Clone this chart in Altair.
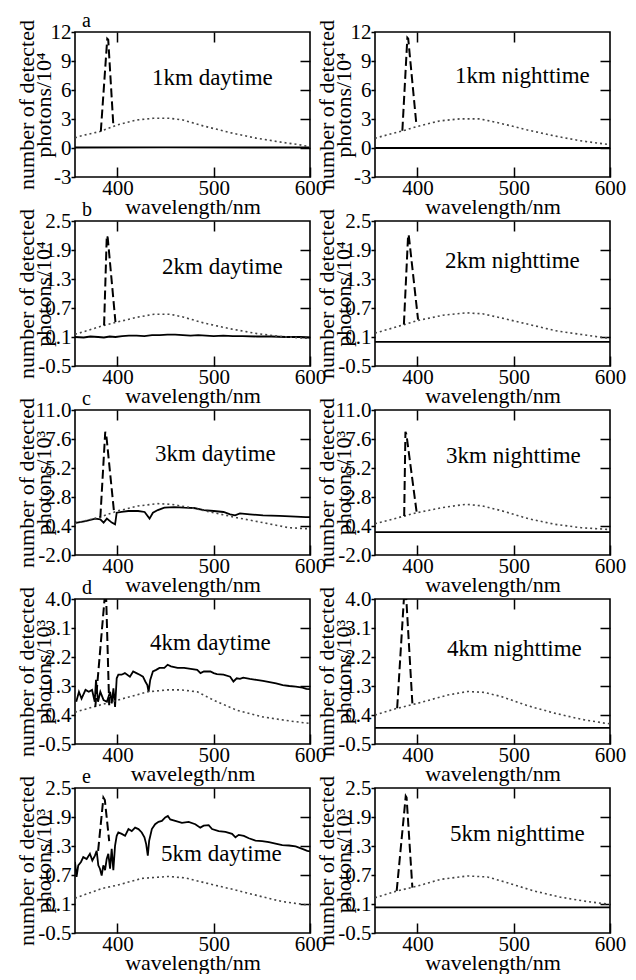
import altair as alt
import pandas as pd

FONT = "Liberation Serif, Times New Roman, serif"
PW, PH = 235, 145

X_DOMAIN = [356, 600]
X_TICKS = [400, 500, 600]
X_TOP_TICKS = [400, 500]

Y_TICKS_A = [-3, 0, 3, 6, 9, 12]
Y_LABELS_A = ["-3", "0", "3", "6", "9", "12"]
Y_TICKS_B = [-0.5, 0.1, 0.7, 1.3, 1.9, 2.5]
Y_LABELS_B = ["-0.5", "0.1", "0.7", "1.3", "1.9", "2.5"]
Y_TICKS_C = [-2.0, 0.4, 2.8, 5.2, 7.6, 10.0]
Y_LABELS_C = ["-2.0", "0.4", "2.8", "5.2", "7.6", "11.0"]
Y_TICKS_D = [-0.5, 0.4, 1.3, 2.2, 3.1, 4.0]
Y_LABELS_D = ["-0.5", "0.4", "1.3", "2.2", "3.1", "4.0"]
Y_TICKS_E = [-0.5, 0.1, 0.7, 1.3, 1.9, 2.5]
Y_LABELS_E = ["-0.5", "0.1", "0.7", "1.3", "1.9", "2.5"]

UNITS = ["photons/10⁴", "photons/10⁴", "photons/10³", "photons/10³", "photons/10³"]
LETTERS = ["a", "b", "c", "d", "e"]
DAY_TITLES = ["1km daytime", "2km daytime", "3km daytime", "4km daytime", "5km daytime"]
NIGHT_TITLES = ["1km nighttime", "2km nighttime", "3km nighttime", "4km nighttime", "5km nighttime"]
X_TITLES_DAY = ["wavelength/nm", "wavelength/nm", "wavelength/nm", "wavelegth/nm", "wavelength/nm"]
X_TITLES_NIGHT = ["wavelength/nm"] * 5
Y_TITLE_TOP = "number of detected"

# in-panel caption placement (pixels inside each plot area): (x, y)
DAY_TEXT_POS = [(77, 46), (87, 46), (80, 44), (75, 44), (86, 66)]
NIGHT_TEXT_POS = [(80, 44), (70, 40), (71, 46), (72, 50), (75, 46)]

# ---- 1 km ----
SOLID_A_DAY = [(356, 0.05), (450, 0.06), (600, 0.05)]
DASH_A_DAY = [(382.8, 1.71), (389.5, 11.3), (390.5, 11.2), (395.9, 2.2)]
DOT_A_DAY = [(356, 1.05), (359.7, 1.19), (382, 1.71), (400, 2.39), (420, 2.9), (437, 3.07),
             (454.5, 3.07), (468, 2.9), (489, 2.29), (516.6, 1.6), (544, 1.02), (571.7, 0.58),
             (589, 0.34), (600, 0.12)]
SOLID_A_NIGHT = [(356, 0.0), (600, 0.0)]
DASH_A_NIGHT = [(384.4, 1.78), (389.6, 11.4), (390.5, 11.3), (399, 2.4)]
DOT_A_NIGHT = [(356, 1.0), (359, 1.1), (385, 1.78), (400, 2.23), (423, 2.8), (444, 3.01),
               (465, 3.01), (485.8, 2.57), (513.5, 1.88), (541.3, 1.27), (569, 0.75), (600, 0.34)]

# ---- 2 km ----
SOLID_B_DAY = [(356, 0.10), (365, 0.09), (372, 0.11), (380, 0.10), (386, 0.09), (392, 0.11),
               (398, 0.10), (405, 0.12), (412, 0.13), (420, 0.13), (428, 0.12), (436, 0.14),
               (444, 0.14), (452, 0.15), (460, 0.15), (468, 0.14), (476, 0.13), (484, 0.14),
               (492, 0.13), (500, 0.12), (510, 0.13), (520, 0.12), (530, 0.12), (545, 0.11),
               (560, 0.11), (575, 0.10), (590, 0.10), (600, 0.09)]
DASH_B_DAY = [(386.2, 0.34), (389, 2.2), (390, 2.15), (398, 0.41)]
DOT_B_DAY = [(356, 0.16), (358.6, 0.17), (386, 0.34), (400, 0.41), (420.7, 0.51), (438, 0.57),
             (455, 0.57), (469, 0.51), (489.7, 0.39), (517, 0.27), (545, 0.17), (569, 0.11),
             (600, 0.07)]
SOLID_B_NIGHT = [(356, 0.0), (600, 0.0)]
DASH_B_NIGHT = [(386, 0.36), (390.4, 2.22), (391.2, 2.18), (400.7, 0.46)]
DOT_B_NIGHT = [(356, 0.18), (359.5, 0.2), (387, 0.36), (400, 0.44), (426.5, 0.55), (450.5, 0.6),
               (467.7, 0.58), (488, 0.49), (515.8, 0.36), (543.3, 0.23), (570.8, 0.15), (600, 0.07)]

# ---- 3 km ----
SOLID_C_DAY = [(356, 0.7), (358.4, 0.68), (366.9, 0.81), (377.1, 1.01), (382.3, 0.95), (385.7, 0.68),
               (389.1, 1.01), (394.2, 0.68), (397.6, 0.54), (399.3, 1.50), (404.4, 1.56),
               (411.3, 1.64), (421.5, 1.64), (428.3, 1.56), (433.4, 1.01), (436.9, 1.50),
               (442, 1.72), (448.8, 1.92), (459, 1.97), (469.3, 1.92), (479.5, 1.89),
               (489.8, 1.72), (500, 1.64), (510.2, 1.56), (517.1, 1.37), (522.2, 1.28),
               (527.3, 1.45), (537.5, 1.37), (551.2, 1.28), (568.3, 1.23), (585.3, 1.17),
               (595.6, 1.14), (600, 1.13)]
DASH_C_DAY = [(382.3, 1.09), (387.4, 8.2), (388.4, 8.0), (396.6, 1.5)]
DOT_C_DAY = [(356, 0.6), (358.4, 0.68), (380, 1.09), (400, 1.64), (421.5, 2.06), (442, 2.25),
             (455.6, 2.2), (476, 1.92), (500, 1.5), (524, 1.09), (551, 0.68), (578, 0.26),
             (595.6, 0.18), (600, 0.2)]
SOLID_C_NIGHT = [(356, -0.1), (600, -0.1)]
DASH_C_NIGHT = [(386.3, 1.23), (387.6, 8.2), (388.6, 8.0), (399.3, 1.5)]
DOT_C_NIGHT = [(356, 0.58), (357.7, 0.62), (400, 1.51), (426.6, 1.93), (450.5, 2.2), (467.7, 2.06),
               (488.1, 1.65), (515.4, 1.0), (542.7, 0.54), (570, 0.26), (597.3, 0.12), (600, 0.12)]

# ---- 4 km ----
SOLID_D_DAY = [(357.3, 0.81), (360.1, 1.12), (362.8, 0.91), (366.9, 1.18), (370.3, 1.12),
               (373.7, 1.18), (376.5, 0.81), (377.8, 1.49), (379.9, 0.81), (382.3, 1.12),
               (385.7, 0.86), (389.1, 0.81), (392.5, 1.12), (394.2, 0.76), (395.9, 1.23),
               (397.6, 0.65), (399.3, 1.54), (401, 1.65), (404.4, 1.65), (407.8, 1.70),
               (413, 1.59), (416.4, 1.75), (419.8, 1.70), (423.2, 1.65), (426.6, 1.59),
               (429, 1.44), (431.1, 1.33), (432.4, 1.12), (434.1, 1.49), (436.9, 1.75),
               (440.3, 1.80), (443.7, 1.86), (448.8, 1.86), (452.2, 1.96), (455.6, 1.91),
               (462.5, 1.86), (469.3, 1.86), (476.1, 1.83), (482.9, 1.80), (486.3, 1.70),
               (489.8, 1.75), (496.6, 1.75), (500, 1.70), (503.4, 1.67), (510.2, 1.65),
               (517.1, 1.59), (520.5, 1.44), (523.9, 1.54), (527.3, 1.52), (530.7, 1.56),
               (537.5, 1.52), (544.4, 1.49), (551.2, 1.46), (558, 1.42), (564.8, 1.38),
               (571.7, 1.33), (578.5, 1.30), (585.3, 1.28), (592.2, 1.25), (596.2, 1.21),
               (600, 1.20)]
DASH_D_DAY = [(377.1, 0.65), (386.7, 4.0), (388.4, 4.0), (391.5, 0.70)]
DOT_D_DAY = [(356, 0.48), (357.3, 0.50), (400, 0.86), (431.7, 1.12), (452.2, 1.18), (465.9, 1.18),
             (482.9, 1.12), (500, 0.86), (523.9, 0.55), (551.2, 0.34), (575, 0.23), (596.2, 0.15),
             (600, 0.14)]
SOLID_D_NIGHT = [(356, 0.0), (600, 0.0)]
DASH_D_NIGHT = [(379, 0.61), (386, 4.0), (388.5, 4.0), (394.8, 0.76)]
DOT_D_NIGHT = [(356, 0.4), (378, 0.6), (400, 0.76), (431.5, 1.02), (452.4, 1.13), (470, 1.10),
               (487.4, 0.97), (515.4, 0.68), (543.4, 0.45), (571.3, 0.26), (595.8, 0.14), (600, 0.13)]

# ---- 5 km ----
SOLID_E_DAY = [(356, 0.97), (357.6, 0.66), (359.4, 0.90), (362.2, 0.97), (364.6, 1.07), (368.1, 1.03),
               (371.5, 1.14), (374, 1.00), (376.7, 1.10), (378.5, 1.20), (380.2, 0.90), (381.9, 0.83),
               (383.7, 0.69), (385.4, 0.90), (387.2, 0.80), (388.9, 1.03), (390.6, 1.14),
               (392.4, 0.83), (394.1, 1.24), (395.8, 0.80), (397.6, 1.31), (399.3, 1.51),
               (401, 1.58), (404.5, 1.55), (408, 1.51), (411.5, 1.65), (414.9, 1.61),
               (418.4, 1.68), (421.9, 1.65), (425.3, 1.58), (428.1, 1.48), (429.9, 1.34),
               (431.6, 1.10), (433, 1.41), (435.8, 1.65), (439.2, 1.75), (442.7, 1.80),
               (446.2, 1.82), (449.7, 1.89), (452.4, 1.92), (454.9, 1.85), (460.1, 1.82),
               (467, 1.78), (474, 1.80), (480.9, 1.75), (486.1, 1.68), (489.6, 1.72),
               (494.8, 1.73), (498.3, 1.65), (505.2, 1.61), (512.2, 1.59), (519.1, 1.55),
               (522.6, 1.48), (526, 1.53), (531.3, 1.51), (536.5, 1.46), (543.4, 1.41),
               (550.3, 1.40), (557.3, 1.38), (564.2, 1.35), (571.2, 1.32), (578.1, 1.31),
               (585.1, 1.29), (592, 1.24), (597.2, 1.20), (600, 1.19)]
DASH_E_DAY = [(380, 1.2), (385.5, 2.3), (387, 2.25), (391.5, 1.4)]
DOT_E_DAY = [(356, 0.22), (383.7, 0.42), (400, 0.49), (425.3, 0.63), (453.1, 0.67), (470.5, 0.64),
             (494.8, 0.52), (522.6, 0.39), (550.3, 0.25), (571.2, 0.15), (597.2, 0.08), (600, 0.08)]
SOLID_E_NIGHT = [(356, 0.03), (600, 0.03)]
DASH_E_NIGHT = [(378.5, 0.37), (387.9, 2.33), (388.8, 2.3), (394.8, 0.44)]
DOT_E_NIGHT = [(356, 0.23), (379, 0.37), (400, 0.47), (424, 0.61), (452, 0.68), (472.7, 0.66),
               (493.4, 0.54), (521, 0.37), (548.8, 0.24), (576.5, 0.15), (597, 0.10), (600, 0.10)]

ROWS = [
    (Y_TICKS_A, Y_LABELS_A, (SOLID_A_DAY, DASH_A_DAY, DOT_A_DAY), (SOLID_A_NIGHT, DASH_A_NIGHT, DOT_A_NIGHT)),
    (Y_TICKS_B, Y_LABELS_B, (SOLID_B_DAY, DASH_B_DAY, DOT_B_DAY), (SOLID_B_NIGHT, DASH_B_NIGHT, DOT_B_NIGHT)),
    (Y_TICKS_C, Y_LABELS_C, (SOLID_C_DAY, DASH_C_DAY, DOT_C_DAY), (SOLID_C_NIGHT, DASH_C_NIGHT, DOT_C_NIGHT)),
    (Y_TICKS_D, Y_LABELS_D, (SOLID_D_DAY, DASH_D_DAY, DOT_D_DAY), (SOLID_D_NIGHT, DASH_D_NIGHT, DOT_D_NIGHT)),
    (Y_TICKS_E, Y_LABELS_E, (SOLID_E_DAY, DASH_E_DAY, DOT_E_DAY), (SOLID_E_NIGHT, DASH_E_NIGHT, DOT_E_NIGHT)),
]


def label_expr(vals, labs):
    expr = "''"
    for v, l in reversed(list(zip(vals, labs))):
        expr = f"abs(datum.value - ({v})) < 1e-6 ? '{l}' : {expr}"
    return expr


def to_df(pairs):
    return pd.DataFrame(pairs, columns=["nm", "v"])


def panel(series, yticks, ylabels, unit, title, tpos, letter, xtitle):
    solid, dashed, dotted = series
    xs = alt.Scale(domain=X_DOMAIN, nice=False, zero=False)
    ys = alt.Scale(domain=[yticks[0], yticks[-1]], nice=False, zero=False)

    x_bottom = alt.Axis(values=X_TICKS, orient="bottom", title=xtitle, domain=False,
                        tickSize=10, offset=-10, tickWidth=1.5, tickColor="black",
                        labelPadding=0, labelFlush=False, labelOverlap=False,
                        labelFontSize=21, titleFontSize=22, titlePadding=-2, grid=False)
    y_left = alt.Axis(values=yticks, labelExpr=label_expr(yticks, ylabels), orient="left",
                      domain=False, tickSize=4, tickWidth=1.5, tickColor="black",
                      labelPadding=0, labelOverlap=False, labelFontSize=21,
                      title=[Y_TITLE_TOP, unit], titleFontSize=22, titleLineHeight=17,
                      titleX=-37, titleY=PH / 2, titleAngle=270, titleAlign="center",
                      titleBaseline="bottom", grid=False)
    x_top = alt.Axis(values=X_TOP_TICKS, orient="top", labels=False, title=None, domain=False,
                     tickSize=10, offset=-10, tickWidth=1.5, tickColor="black", grid=False)
    y_right = alt.Axis(values=yticks[1:-1], orient="right", labels=False, title=None, domain=False,
                       tickSize=10, offset=-10, tickWidth=1.5, tickColor="black", grid=False)

    solid_l = alt.Chart(to_df(solid)).mark_line(color="black", strokeWidth=1.8, clip=True).encode(
        x=alt.X("nm:Q", scale=xs, axis=x_bottom),
        y=alt.Y("v:Q", scale=ys, axis=y_left),
    )
    dot_l = alt.Chart(to_df(dotted)).mark_line(color="#444444", strokeWidth=1.6,
                                               strokeDash=[2, 3], clip=True).encode(
        x=alt.X("nm:Q", scale=xs, axis=x_top),
        y=alt.Y("v:Q", scale=ys, axis=y_right),
    )
    dash_l = alt.Chart(to_df(dashed)).mark_line(color="black", strokeWidth=2,
                                                strokeDash=[9, 4], clip=True).encode(
        x=alt.X("nm:Q", scale=xs, axis=None),
        y=alt.Y("v:Q", scale=ys, axis=None),
    )
    txt = alt.Chart(pd.DataFrame({"t": [title]})).mark_text(
        font=FONT, fontSize=23, align="left", baseline="middle", color="black"
    ).encode(text="t:N", x=alt.value(tpos[0]), y=alt.value(tpos[1]))
    layers = [solid_l, dot_l, dash_l, txt]
    if letter:
        let = alt.Chart(pd.DataFrame({"t": [letter]})).mark_text(
            font=FONT, fontSize=20, align="left", baseline="alphabetic", color="black"
        ).encode(text="t:N", x=alt.value(7), y=alt.value(-5))
        layers.append(let)
    return alt.layer(*layers).resolve_axis(x="independent", y="independent").properties(
        width=PW, height=PH)


panels = []
for i, (yt, yl, day, night) in enumerate(ROWS):
    panels.append(panel(day, yt, yl, UNITS[i], DAY_TITLES[i], DAY_TEXT_POS[i], LETTERS[i],
                        X_TITLES_DAY[i]))
    panels.append(panel(night, yt, yl, UNITS[i], NIGHT_TITLES[i], NIGHT_TEXT_POS[i], None,
                        X_TITLES_NIGHT[i]))

chart = alt.concat(*panels, columns=2, spacing={"row": 44, "column": 65}, bounds="flush").properties(
    padding={"left": 6, "top": 2, "right": 0, "bottom": 0}
).configure_view(stroke="black", strokeWidth=1.6).configure_axis(
    labelFont=FONT, titleFont=FONT, labelColor="black", titleColor="black",
    titleFontWeight="normal"
)

chart.save("out.html", embed_options={"renderer": "svg", "actions": False})
